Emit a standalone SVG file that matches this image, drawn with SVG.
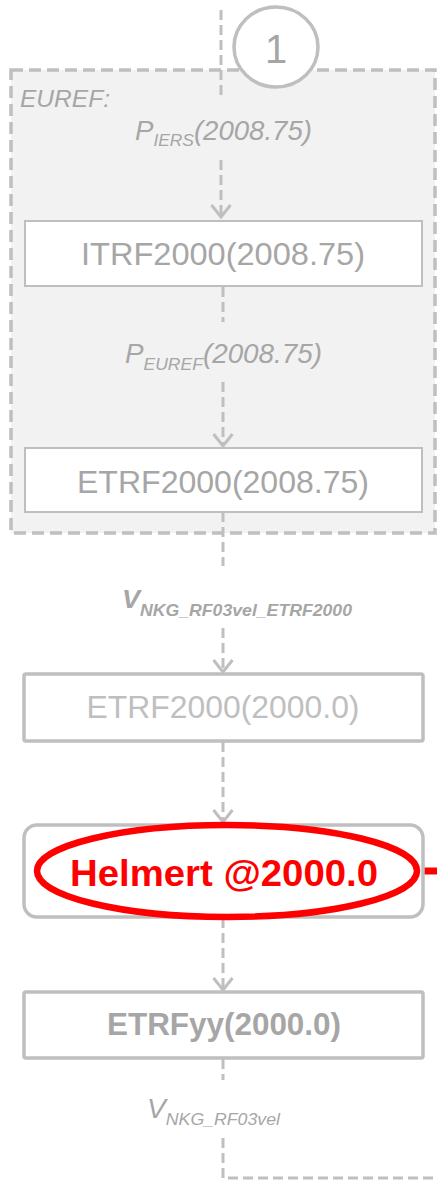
<svg xmlns="http://www.w3.org/2000/svg" width="437" height="1188" viewBox="0 0 437 1188">
  <defs>
    <marker id="arrow" viewBox="0 0 16 22" refX="14" refY="11" markerWidth="16" markerHeight="22" markerUnits="userSpaceOnUse" orient="auto">
      <path d="M2,1.5 L14,11 L2,20.5" fill="none" stroke="#bfbfbf" stroke-width="3"/>
    </marker>
    <style>
      .conn { fill: none; stroke: #bfbfbf; stroke-width: 3; stroke-dasharray: 10 5; }
      .box { fill: #ffffff; stroke: #bfbfbf; stroke-width: 2; }
      .boxthick { fill: #ffffff; stroke: #bfbfbf; stroke-width: 3.5; }
      .label { font-family: "Liberation Sans", "Open Sans", sans-serif; fill: #a6a6a6; }
      .node { font-family: "Liberation Sans", "Open Sans", sans-serif; text-anchor: middle; }
      .it { font-style: italic; }
    </style>
  </defs>

  <!-- EUREF group frame -->
  <g id="euref-frame">
    <rect x="11" y="70" width="424" height="463" fill="#f2f2f2" stroke="#bfbfbf" stroke-width="3.5" stroke-dasharray="12 6"/>
    <text x="20" y="107" class="label it" font-size="24" textLength="90" lengthAdjust="spacingAndGlyphs">EUREF:</text>
  </g>

  <!-- connectors -->
  <g id="connectors">
    <line class="conn" x1="221" y1="10" x2="221" y2="98"/>
    <line class="conn" x1="221" y1="160" x2="221" y2="217" marker-end="url(#arrow)"/>
    <line class="conn" x1="223" y1="287" x2="223" y2="322"/>
    <line class="conn" x1="223" y1="382" x2="223" y2="446" marker-end="url(#arrow)"/>
    <line class="conn" x1="223" y1="512" x2="223" y2="566"/>
    <line class="conn" x1="223" y1="628" x2="223" y2="672" marker-end="url(#arrow)"/>
    <line class="conn" x1="223" y1="742" x2="223" y2="822" marker-end="url(#arrow)"/>
    <line class="conn" x1="223" y1="918" x2="223" y2="990" marker-end="url(#arrow)"/>
    <line class="conn" x1="223" y1="1059" x2="223" y2="1080"/>
    <polyline class="conn" points="223,1138 223,1178 437,1178"/>
    <line x1="414" y1="871" x2="437" y2="871" stroke="#ff0000" stroke-width="7"/>
  </g>

  <!-- step marker -->
  <g id="step-1">
    <ellipse cx="276" cy="47" rx="42" ry="40" fill="#ffffff" stroke="#bfbfbf" stroke-width="3.5"/>
    <text x="276" y="63" class="node" font-size="40" fill="#a6a6a6">1</text>
  </g>

  <!-- edge labels -->
  <g id="label-piers">
    <text x="135" y="140" class="label it" font-size="27" textLength="177" lengthAdjust="spacingAndGlyphs">P<tspan font-size="17" dy="6">IERS</tspan><tspan dy="-6">(2008.75)</tspan></text>
  </g>
  <g id="label-peuref">
    <text x="125" y="363" class="label it" font-size="27" textLength="197" lengthAdjust="spacingAndGlyphs">P<tspan font-size="17" dy="7">EUREF</tspan><tspan dy="-7">(2008.75)</tspan></text>
  </g>
  <g id="label-vel-etrf2000">
    <text x="122" y="608" class="label it" font-size="26" font-weight="bold" fill="#bfbfbf" textLength="230" lengthAdjust="spacingAndGlyphs">V<tspan font-size="17" dy="8">NKG_RF03vel_ETRF2000</tspan></text>
  </g>
  <g id="label-vel">
    <text x="147" y="1118" class="label it" font-size="27" textLength="133" lengthAdjust="spacingAndGlyphs">V<tspan font-size="17" dy="7">NKG_RF03vel</tspan></text>
  </g>

  <!-- nodes -->
  <g id="itrf2000-2008">
    <rect class="box" x="25" y="221" width="397" height="65"/>
    <text x="223" y="265" class="node" font-size="31" fill="#a6a6a6" textLength="284" lengthAdjust="spacingAndGlyphs">ITRF2000(2008.75)</text>
  </g>

  <g id="etrf2000-2008">
    <rect class="box" x="25" y="448" width="397" height="64"/>
    <text x="223" y="493" class="node" font-size="31" fill="#a6a6a6" textLength="292" lengthAdjust="spacingAndGlyphs">ETRF2000(2008.75)</text>
  </g>

  <g id="etrf2000-2000">
    <rect class="boxthick" x="24" y="674" width="399" height="67" rx="2"/>
    <text x="223" y="718" class="node" font-size="31" fill="#bfbfbf" textLength="273" lengthAdjust="spacingAndGlyphs">ETRF2000(2000.0)</text>
  </g>

  <g id="helmert-2000">
    <rect class="boxthick" x="24" y="825" width="399" height="92" rx="13"/>
    <ellipse cx="227" cy="871" rx="190" ry="46" fill="none" stroke="#ff0000" stroke-width="6.5"/>
    <text x="224" y="886" class="node" font-size="36" font-weight="bold" fill="#ff0000" textLength="308" lengthAdjust="spacingAndGlyphs">Helmert @2000.0</text>
  </g>

  <g id="etrfyy-2000">
    <rect class="boxthick" x="24" y="992" width="399" height="66" rx="2"/>
    <text x="224" y="1035" class="node" font-size="31" font-weight="bold" fill="#a6a6a6" textLength="234" lengthAdjust="spacingAndGlyphs">ETRFyy(2000.0)</text>
  </g>
</svg>
